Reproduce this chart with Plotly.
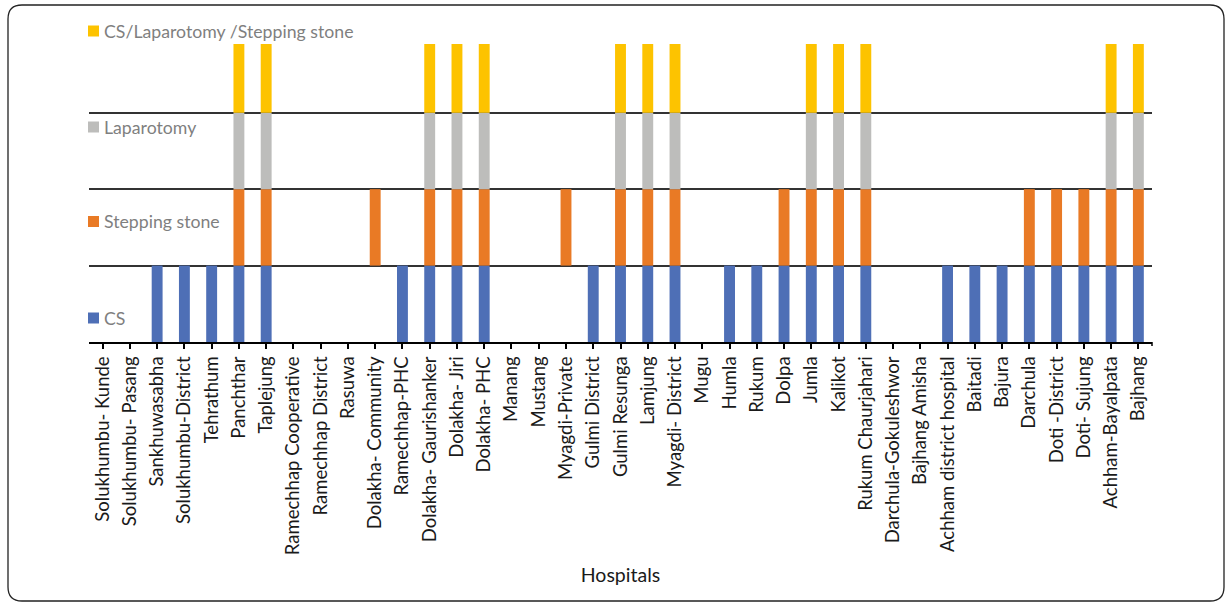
import plotly.graph_objects as go

hospitals = [
    "Solukhumbu- Kunde", "Solukhumbu- Pasang", "Sankhuwasabha", "Solukhumbu-District",
    "Tehrathum", "Panchthar", "Taplejung", "Ramechhap Cooperative", "Ramechhap District",
    "Rasuwa", "Dolakha- Community", "Ramechhap-PHC", "Dolakha- Gaurishanker", "Dolakha- Jiri",
    "Dolakha- PHC", "Manang", "Mustang", "Myagdi-Private", "Gulmi District", "Gulmi Resunga",
    "Lamjung", "Myagdi- District", "Mugu", "Humla", "Rukum", "Dolpa", "Jumla", "Kalikot",
    "Rukum Chaurjahari", "Darchula-Gokuleshwor", "Bajhang Amisha", "Achham district hospital",
    "Baitadi", "Bajura", "Darchula", "Doti -District", "Doti- Sujung", "Achham-Bayalpata", "Bajhang",
]

cs =        [0,0,1,1,1,1,1,0,0,0,0,1,1,1,1,0,0,0,1,1,1,1,0,1,1,1,1,1,1,0,0,1,1,1,1,1,1,1,1]
stepping =  [0,0,0,0,0,1,1,0,0,0,1,0,1,1,1,0,0,1,0,1,1,1,0,0,0,1,1,1,1,0,0,0,0,0,1,1,1,1,1]
laparotomy= [0,0,0,0,0,1,1,0,0,0,0,0,1,1,1,0,0,0,0,1,1,1,0,0,0,0,1,1,1,0,0,0,0,0,0,0,0,1,1]
cs_lap_ss = [0,0,0,0,0,1,1,0,0,0,0,0,1,1,1,0,0,0,0,1,1,1,0,0,0,0,1,1,1,0,0,0,0,0,0,0,0,1,1]

series = [
    ("CS", cs, 0, "#4E6FB6"),
    ("Stepping stone", stepping, 1, "#E97A25"),
    ("Laparotomy", laparotomy, 2, "#BDBDBB"),
    ("CS/Laparotomy /Stepping stone", cs_lap_ss, 3, "#FDC300"),
]

W, H = 1232, 603
L, R, T, B = 89, 1152, 44, 342
FONT = "Lato"

def px(x):
    return (x - L) / (R - L)

def py(y):
    return (B - y) / (B - T)

fig = go.Figure()
for name, vals, base, color in series:
    fig.add_trace(go.Bar(
        x=hospitals,
        y=[v if v else None for v in vals],
        base=base,
        name=name,
        marker=dict(color=color, line=dict(width=0)),
        width=0.4,
        showlegend=False,
    ))

# legend built as annotations with square markers
legend_y = {"CS": 318, "Stepping stone": 221.5, "Laparotomy": 127, "CS/Laparotomy /Stepping stone": 31}
shapes = []
annotations = []
for name, vals, base, color in series:
    yc = legend_y[name]
    shapes.append(dict(type="rect", xref="paper", yref="paper",
                       x0=px(88), x1=px(99), y0=py(yc + 5.5), y1=py(yc - 5.5),
                       fillcolor=color, line=dict(width=0), layer="above"))
    annotations.append(dict(text=name, xref="paper", yref="paper", x=px(102), y=py(yc),
                            xanchor="left", yanchor="middle", showarrow=False,
                            font=dict(family=FONT, size=17.7, color="#7f7f7f")))

# end tick on axis
shapes.append(dict(type="line", xref="paper", yref="paper", x0=1, x1=1, y0=0, y1=py(346),
                   line=dict(color="black", width=1.5)))

# rounded outer border
x0, y0, x1, y1, r = 8, 5, 1224, 601, 14
path = (f"M {px(x0+r)},{py(y0)} L {px(x1-r)},{py(y0)} "
        f"Q {px(x1)},{py(y0)} {px(x1)},{py(y0+r)} L {px(x1)},{py(y1-r)} "
        f"Q {px(x1)},{py(y1)} {px(x1-r)},{py(y1)} L {px(x0+r)},{py(y1)} "
        f"Q {px(x0)},{py(y1)} {px(x0)},{py(y1-r)} L {px(x0)},{py(y0+r)} "
        f"Q {px(x0)},{py(y0)} {px(x0+r)},{py(y0)} Z")
shapes.append(dict(type="path", xref="paper", yref="paper", path=path,
                   line=dict(color="#222222", width=1.3)))

fig.update_layout(
    width=W, height=H,
    margin=dict(l=L, r=W - R, t=T, b=H - B),
    barmode="overlay",
    plot_bgcolor="white", paper_bgcolor="white",
    font=dict(family=FONT, size=18.5, color="#1a1a1a"),
    shapes=shapes,
    annotations=annotations,
    xaxis=dict(
        type="category", range=[-0.5, len(hospitals) - 0.5],
        tickangle=-90, showline=True, linecolor="black", linewidth=2,
        ticks="outside", ticklen=5, tickwidth=1.5, tickcolor="black",
        tickfont=dict(family=FONT, size=18.5, color="#1a1a1a"),
        title=dict(text="Hospitals", standoff=14, font=dict(family=FONT, size=19.5, color="#1a1a1a")),
        automargin=False, showgrid=False,
    ),
    yaxis=dict(
        range=[0, 3.9], tickvals=[1, 2, 3], showticklabels=False,
        showgrid=True, gridcolor="#333333", gridwidth=1.5,
        zeroline=False, showline=False, automargin=False,
    ),
)

fig.write_html("out.html", config={"displayModeBar": False},
               post_script="document.body.style.margin='0';document.body.style.overflow='hidden';")
